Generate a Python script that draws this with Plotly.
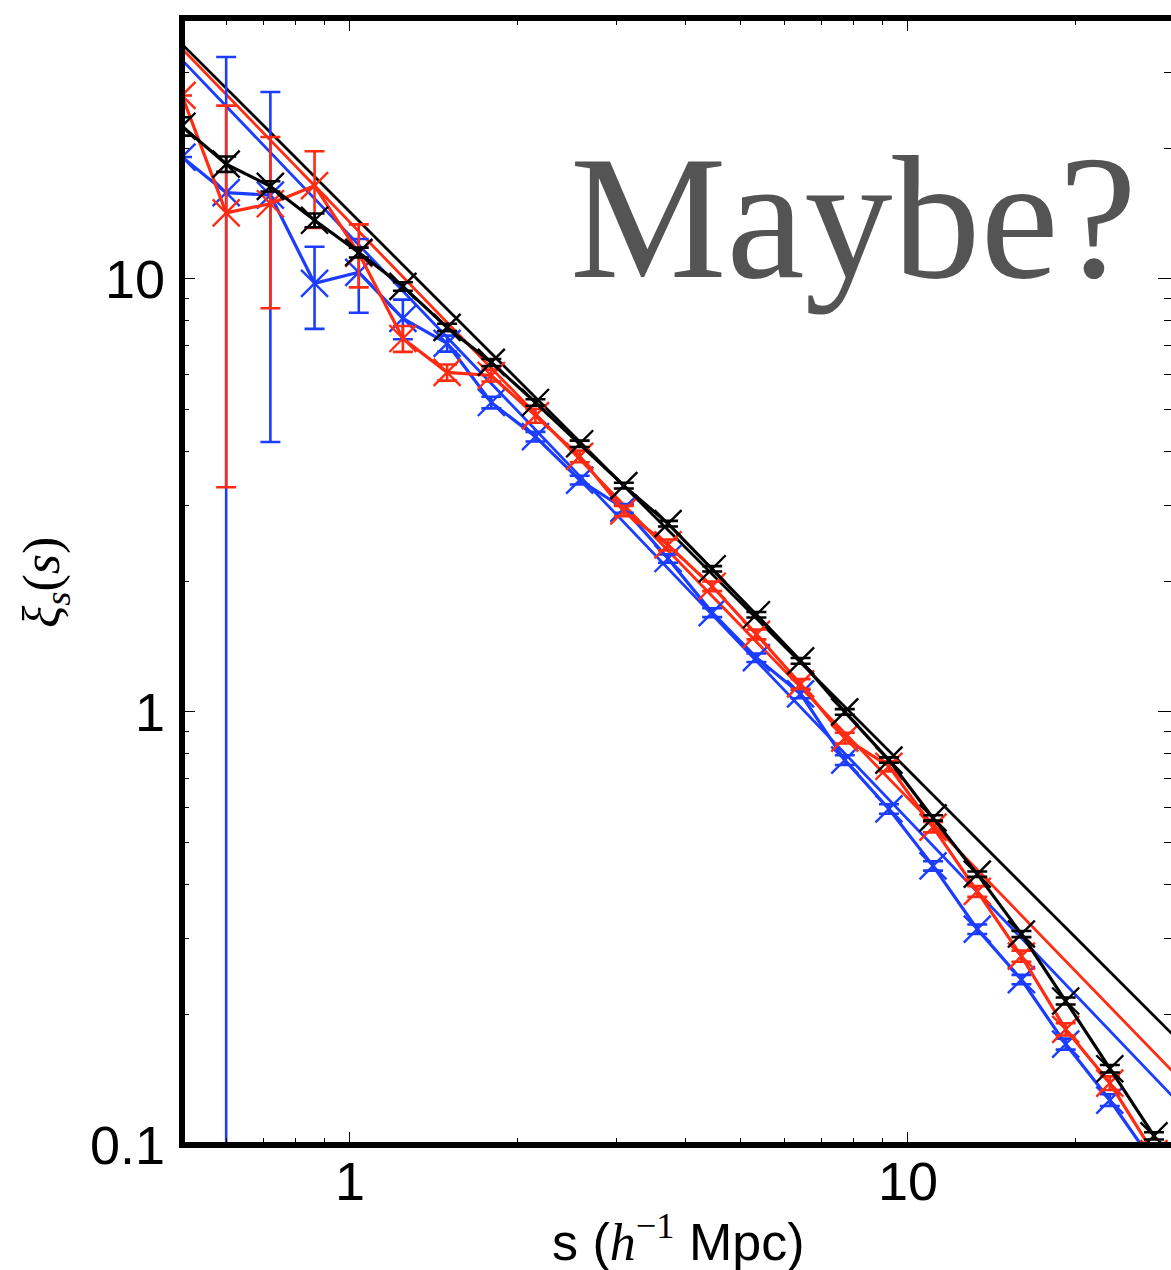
import numpy as np
import plotly.graph_objects as go

# ---------------- data ----------------
s = [0.5, 0.6, 0.72, 0.864, 1.037, 1.244, 1.493, 1.792, 2.150, 2.580, 3.096,
     3.715, 4.458, 5.350, 6.420, 7.704, 9.245, 11.09, 13.31, 15.97, 19.17,
     23.00, 27.60]

xi_black = [22.5, 18.4, 16.35, 13.65, 11.5, 9.60, 7.72, 6.41, 5.18, 4.16, 3.33,
            2.72, 2.14, 1.676, 1.312, 1.00, 0.774, 0.569, 0.422, 0.307, 0.215,
            0.150, 0.105]
err_black = [1.1, 0.75, 0.45, 0.5, 0.3, 0.22, 0.15, 0.12, 0.09, 0.07, 0.05,
             0.04, 0.03, 0.025, 0.02, 0.015, 0.011, 0.008, 0.006, 0.005, 0.004,
             0.003, 0.002]

xi_red = [26.5, 14.2, 14.9, 16.4, 11.45, 7.28, 6.08, 5.98, 4.83, 3.89, 2.91,
          2.43, 1.95, 1.51, 1.16, 0.870, 0.749, 0.542, 0.385, 0.273, 0.185,
          0.139, 0.0955]
err_red = [0.0, 10.9, 6.35, 3.3, 1.9, 0.5, 0.26, 0.19, 0.18, 0.12, 0.08,
           0.07, 0.05, 0.04, 0.03, 0.025, 0.02, 0.015, 0.011, 0.008, 0.006,
           0.005, 0.004]

xi_blue = [19.1, 15.8, 15.6, 9.76, 10.35, 8.10, 7.09, 5.18, 4.32, 3.43, 2.95,
           2.26, 1.695, 1.334, 1.10, 0.774, 0.597, 0.441, 0.315, 0.241, 0.171,
           0.127, 0.0907]
err_blue = [0.0, 16.7, 11.4, 2.1, 2.0, 0.85, 0.3, 0.16, 0.11, 0.08, 0.07,
            0.05, 0.04, 0.03, 0.025, 0.02, 0.015, 0.011, 0.008, 0.006, 0.005,
            0.004, 0.003]

# power-law fits xi = (s / r0)^(-gamma)
fit_names = ["blue", "red", "black"]
fit_r0 = [6.54, 7.08, 7.87]
fit_gamma = [1.348, 1.330, 1.288]
fit_s = [0.5, 30.0]

x_tickvals = [1, 10]
x_ticktext = ["1", "10"]
y_tickvals = [0.1, 1, 10]
y_ticktext = ["0.1", "1", "10"]

# ---------------- styling ----------------
COL = {"black": "#000000", "red": "#ff2b12", "blue": "#1c3dff"}
W, H = 1171, 1270
L, R, T, B = 182, 0, 18, 125
x_left = np.log10(0.5)
x_right = x_left + (W - L - R) / 558.0
y_range = [-1, np.log10(40)]

fig = go.Figure()

# fit lines
for name, r0, g in zip(fit_names, fit_r0, fit_gamma):
    fs = np.array(fit_s)
    fig.add_trace(go.Scatter(x=fs, y=(fs / r0) ** (-g), mode="lines",
                             line=dict(color=COL[name], width=2.8),
                             showlegend=False, hoverinfo="skip"))

# data series
for name, yv, ev in [("blue", xi_blue, err_blue), ("red", xi_red, err_red),
                     ("black", xi_black, err_black)]:
    fig.add_trace(go.Scatter(
        x=s, y=yv, mode="lines+markers",
        line=dict(color=COL[name], width=3.2),
        marker=dict(symbol="x-thin", size=27,
                    line=dict(color=COL[name], width=2.4), color=COL[name]),
        error_y=dict(type="data", array=ev, visible=True, color=COL[name],
                     thickness=2.6, width=10),
        showlegend=False))

minor_x = [0.6, 0.7, 0.8, 0.9, 2, 3, 4, 5, 6, 7, 8, 9, 20, 30]
minor_y = [0.2, 0.3, 0.4, 0.5, 0.6, 0.7, 0.8, 0.9, 2, 3, 4, 5, 6, 7, 8, 9,
           20, 30, 40]

tickfont = dict(family="Liberation Sans, Arial, sans-serif", size=54,
                color="#000000")

fig.update_xaxes(type="log", range=[x_left, x_right], showgrid=False,
                 zeroline=False, showline=False, mirror="ticks",
                 ticks="inside", ticklen=13, tickwidth=1.3, tickcolor="#000",
                 tickvals=x_tickvals, ticktext=x_ticktext, tickfont=tickfont,
                 ticklabelstandoff=0,
                 minor=dict(ticks="inside", ticklen=7, tickwidth=1.3,
                            tickcolor="#000", tickvals=minor_x,
                            showgrid=False))
fig.update_yaxes(type="log", range=y_range, showgrid=False, zeroline=False,
                 showline=False, mirror="ticks", ticks="inside", ticklen=13,
                 tickwidth=1.3, tickcolor="#000", tickvals=y_tickvals,
                 ticktext=y_ticktext, tickfont=tickfont, ticklabelstandoff=16,
                 minor=dict(ticks="inside", ticklen=7, tickwidth=1.3,
                            tickcolor="#000", tickvals=minor_y,
                            showgrid=False))

# thick spines (left, bottom, top)
spine = dict(type="line", xref="paper", yref="paper", layer="above",
             line=dict(color="#000000", width=6))
fig.add_shape(x0=0, x1=0, y0=-0.0027, y1=1.0027, **spine)
fig.add_shape(x0=-0.003, x1=1.0, y0=0, y1=0, **spine)
fig.add_shape(x0=-0.003, x1=1.0, y0=1, y1=1, **spine)

def px2paper_x(px):
    return (px - L) / (W - L - R)

def px2paper_y(py):
    return (H - B - py) / (H - B - T)

# big "Maybe?" text
fig.add_annotation(text="Maybe?", xref="paper", yref="paper",
                   x=px2paper_x(853), y=px2paper_y(218), xanchor="center",
                   yanchor="middle", showarrow=False,
                   font=dict(family="Liberation Serif, Times New Roman, serif",
                             size=176, color="#545454"))

# axis titles
fig.add_annotation(
    text='s (<span style="font-family:Liberation Serif"><i>h</i><sup>−1</sup></span> Mpc)',
    xref="paper", yref="paper", x=px2paper_x(678), y=px2paper_y(1238),
    xanchor="center", yanchor="middle", showarrow=False,
    font=dict(family="Liberation Sans, Arial, sans-serif", size=52,
              color="#000"))
fig.add_annotation(
    text="<i>ξ</i><sub><i>s</i></sub>(<i>s</i>)",
    xref="paper", yref="paper", x=px2paper_x(45), y=px2paper_y(583),
    xanchor="center", yanchor="middle", showarrow=False, textangle=-90,
    font=dict(family="Liberation Serif, Times New Roman, serif", size=52,
              color="#000"))

fig.update_layout(width=W, height=H, autosize=False,
                  margin=dict(l=L, r=R, t=T, b=B, pad=0),
                  paper_bgcolor="white", plot_bgcolor="white",
                  showlegend=False)

fig.write_html("out.html")
